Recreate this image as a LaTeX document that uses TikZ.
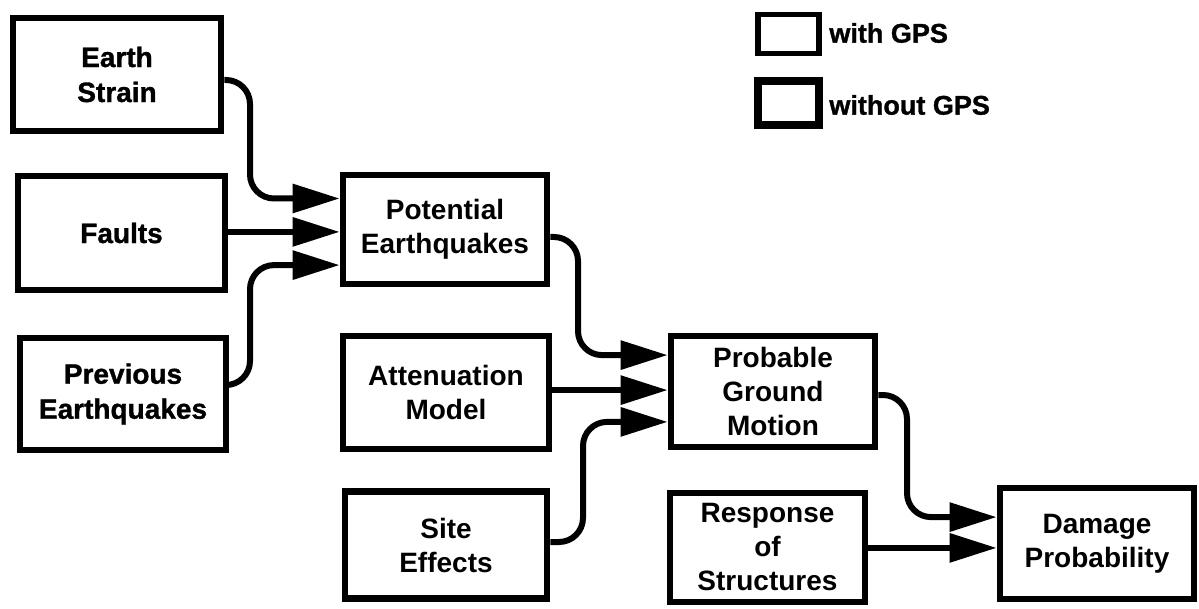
\documentclass[tikz,border=0pt]{standalone}
\usepackage{fontspec}
\setmainfont{Liberation Sans}
\newfontfamily\boxfont{Liberation Sans}
\newfontfamily\heavyfont{Liberation Sans}[BoldFeatures={FakeBold=1.2}]
\usetikzlibrary{arrows.meta}
\begin{document}
\begin{tikzpicture}[x=0.5pt,y=-0.5pt,
  box/.style={draw, line width=3.3pt, inner sep=0pt, align=center,
    font=\boxfont\bfseries\fontsize{14}{17}\selectfont},
  heavy/.style={font=\heavyfont\bfseries\fontsize{14}{17.5}\selectfont},
  legendbox/.style={draw, inner sep=0pt, minimum width=30.5pt},
  legendtext/.style={anchor=west, inner sep=0pt, font=\heavyfont\bfseries\fontsize{13.5}{16}\selectfont},
  conn/.style={line width=3pt, -{Triangle[length=23.5pt,width=14pt]}, rounded corners=12pt},
]
\useasboundingbox (0,0) rectangle (1199,609);
% boxes
\node[box, heavy, minimum width=104pt,  minimum height=56.5pt] (es) at (117,74.5)   {Earth\\Strain};
\node[box, heavy, minimum width=103.5pt,minimum height=57pt]   (fa) at (121.5,233)  {Faults};
\node[box, heavy, minimum width=103pt,  minimum height=56pt]   (pq) at (123,394)    {Previous\\Earthquakes};
\node[box, minimum width=102pt,  minimum height=54.5pt] (po) at (445,229.5)  {Potential\\Earthquakes};
\node[box, minimum width=103pt,  minimum height=56.5pt] (at) at (446,392.5)  {Attenuation\\Model};
\node[box, minimum width=101pt,  minimum height=53.5pt] (si) at (446,545)    {Site\\Effects};
\node[box, minimum width=102pt,  minimum height=55.5pt] (pg) at (773,391.5)  {Probable\\Ground\\Motion};
\node[box, minimum width=97.5pt, minimum height=54.5pt] (rs) at (767.5,547.5){Response\\of\\Structures};
\node[box, minimum width=97pt,   minimum height=55.5pt] (dp) at (1097,543.5) {Damage\\Probability};
% legend
\node[legendbox, line width=2.8pt, minimum height=19.5pt] (lg1) at (788.5,34) {};
\node[legendbox, line width=3.6pt, minimum height=22pt] (lg2) at (788.5,103) {};
\node[legendtext] (lt1) at (829,33)  {with GPS};
\node[legendtext] (lt2) at (829,105) {without GPS};
% entry points
\coordinate (po1) at ([yshift=15.5pt]po.west);
\coordinate (po2) at ([yshift=-1.2pt]po.west);
\coordinate (po3) at ([yshift=-17.8pt]po.west);
\coordinate (pg1) at ([yshift=18.2pt]pg.west);
\coordinate (pg2) at ([yshift=0.7pt]pg.west);
\coordinate (pg3) at ([yshift=-15.2pt]pg.west);
\coordinate (dp1) at ([yshift=13.2pt]dp.west);
\coordinate (dp2) at ([yshift=-2.2pt]dp.west);
% vertical runs
\coordinate (c1) at (250,0);
\coordinate (c2) at (578,0);
\coordinate (c3) at (583,0);
\coordinate (c4) at (907,0);
% connectors
\draw[conn] ([yshift=-2.75pt]es.east) -| (c1 |- po1) -- (po1);
\draw[conn] (fa.east |- po2) -- (po2);
\draw[conn] ([yshift=4.5pt]pq.east) -| (c1 |- po3) -- (po3);
\draw[conn] ([yshift=-3.75pt]po.east) -| (c2 |- pg1) -- (pg1);
\draw[conn] (at.east |- pg2) -- (pg2);
\draw[conn] ([yshift=1.5pt]si.east) -| (c3 |- pg3) -- (pg3);
\draw[conn] ([yshift=-1.75pt]pg.east) -| (c4 |- dp1) -- (dp1);
\draw[conn] (rs.east |- dp2) -- (dp2);
\end{tikzpicture}
\end{document}
